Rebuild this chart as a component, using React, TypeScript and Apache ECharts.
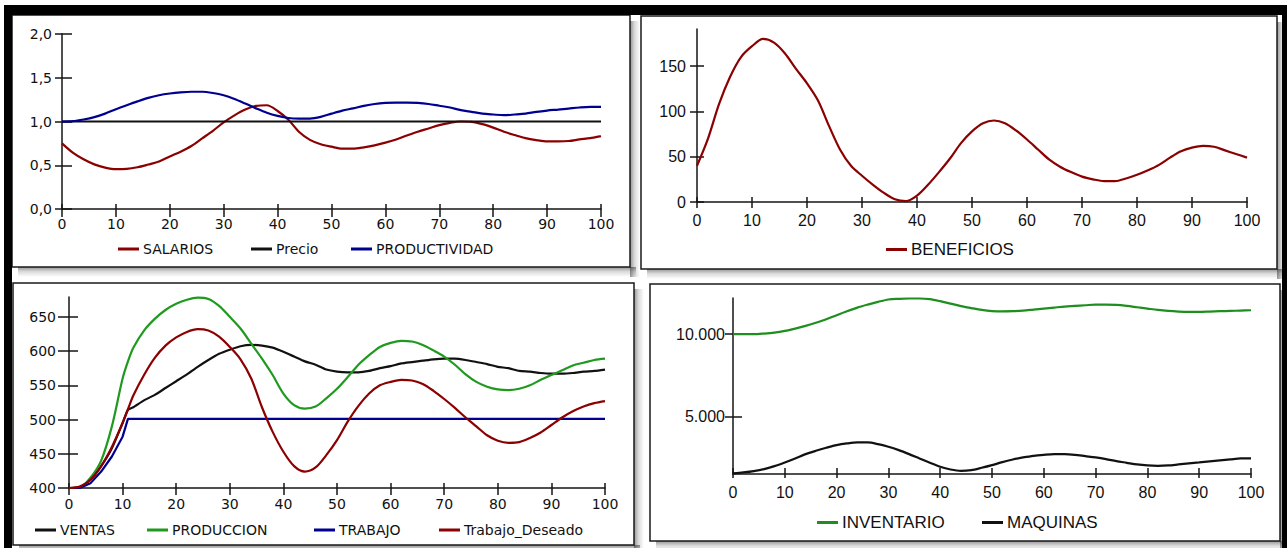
import React, { useEffect, useRef } from "react";
import * as echarts from "echarts";

// ---------- DATA ----------
const TIME = [0,2,4,6,8,10,12,14,16,18,20,22,24,26,28,30,32,34,36,38,40,42,44,46,48,50,52,54,56,58,60,62,64,66,68,70,72,74,76,78,80,82,84,86,88,90,92,94,96,98,100];
const TIME_P3 = [0,2,4,6,8,10,11,12,14,16,18,20,22,24,26,28,30,32,34,36,38,40,42,44,46,48,50,52,54,56,58,60,62,64,66,68,70,72,74,76,78,80,82,84,86,88,90,92,94,96,98,100];

// Panel 1
const SALARIOS = [0.75,0.644,0.568,0.51,0.473,0.455,0.458,0.477,0.508,0.542,0.6,0.655,0.72,0.807,0.894,0.99,1.07,1.136,1.178,1.186,1.12,1.02,0.88,0.79,0.74,0.712,0.69,0.69,0.705,0.727,0.758,0.795,0.84,0.883,0.92,0.958,0.985,1.0,0.996,0.97,0.93,0.883,0.845,0.81,0.788,0.773,0.773,0.777,0.795,0.81,0.833];
const PRECIO = [1,1,1,1,1,1,1,1,1,1,1,1,1,1,1,1,1,1,1,1,1,1,1,1,1,1,1,1,1,1,1,1,1,1,1,1,1,1,1,1,1,1,1,1,1,1,1,1,1,1,1];
const PRODUCTIVIDAD = [1.0,1.004,1.023,1.05,1.09,1.14,1.186,1.23,1.27,1.3,1.32,1.333,1.34,1.34,1.326,1.3,1.258,1.205,1.15,1.1,1.064,1.04,1.034,1.034,1.053,1.09,1.125,1.15,1.178,1.2,1.212,1.216,1.216,1.212,1.2,1.18,1.16,1.13,1.11,1.09,1.08,1.072,1.08,1.09,1.11,1.125,1.136,1.148,1.16,1.167,1.167];
const P1_Y_TICKS = [0, 0.5, 1, 1.5, 2];

// Panel 2
const BENEFICIOS = [40,70,108,138,160,172,180,176,164,147,131,112,84,58,40,29,19,10,3,1,7,19,33,48,65,78,87,90,87,79,69,58,47,39,33,28,25,23,23,26,30,35,41,49,56,60,62,61,57,53,49];
const P2_Y_TICKS = [0, 50, 100, 150];

// Panel 3
const VENTAS = [400,401,412,432,458,495,514,518,528,536,546,556,566,577,587,596,602,607,609,608,605,599,592,585,580,573,570,569,569,571,575,578,582,584,586,588,589,589,587,584,581,577,575,571,570,568,567,567,568,570,571,573];
const PRODUCCION = [400,401,415,440,490,560,585,605,630,647,660,669,675,678,676,666,650,633,611,589,565,538,521,516,519,531,545,562,580,594,606,612,615,614,609,601,592,580,566,555,548,544,543,545,550,558,565,572,579,583,587,589];
const TRABAJO = [400,400,407,424,446,475,501,501,501,501,501,501,501,501,501,501,501,501,501,501,501,501,501,501,501,501,501,501,501,501,501,501,501,501,501,501,501,501,501,501,501,501,501,501,501,501,501,501,501,501,501,501];
const TRABAJO_DESEADO = [400,402,412,432,460,495,515,535,565,590,608,620,628,632,630,621,606,588,560,518,482,453,432,424,430,448,470,497,520,538,550,555,558,557,552,542,530,517,503,490,477,469,466,467,473,481,492,503,512,519,524,527];
const P3_Y_TICKS = [400, 450, 500, 550, 600, 650];

// Panel 4
const INVENTARIO = [10000,10000,10000,10040,10100,10200,10340,10500,10690,10900,11150,11390,11610,11790,11955,12100,12140,12160,12160,12120,12000,11850,11700,11580,11470,11400,11380,11390,11430,11490,11550,11610,11670,11710,11750,11790,11790,11770,11710,11630,11550,11470,11410,11370,11350,11350,11370,11390,11410,11430,11450];
const MAQUINAS = [1573,1633,1714,1835,2017,2238,2480,2742,2944,3125,3287,3388,3448,3448,3347,3186,2984,2742,2480,2218,1976,1815,1734,1775,1916,2077,2258,2420,2541,2642,2702,2742,2742,2702,2621,2541,2440,2319,2218,2117,2057,2037,2057,2117,2178,2238,2299,2360,2420,2480,2480];
const P4_Y_TICKS = [5000, 10000];

const X_TICKS = [0, 10, 20, 30, 40, 50, 60, 70, 80, 90, 100];

// ---------- STYLE HELPERS ----------
const VERDANA = "DejaVu Sans";
const ARIAL = "Liberation Sans";
const AXIS_COLOR = "#151515";

function pairs(t: number[], v: number[]) {
  return t.map((x, i) => [x, v[i]]);
}

function makeX(gi: number, font: string, size: number, out: number, inn: number, margin: number) {
  const base = {
    type: "value",
    gridIndex: gi,
    min: 0,
    max: 100,
    position: "bottom",
    splitLine: { show: false },
  };
  return [
    {
      ...base,
      axisLine: { show: true, onZero: false, lineStyle: { color: AXIS_COLOR, width: 1.5 } },
      axisTick: { show: true, length: out, customValues: X_TICKS, lineStyle: { color: AXIS_COLOR, width: 1.5 } },
      axisLabel: { show: true, margin, customValues: X_TICKS, fontFamily: font, fontSize: size, color: "#111" },
    },
    {
      ...base,
      axisLine: { show: false, onZero: false },
      axisTick: { show: true, inside: true, length: inn, customValues: X_TICKS, lineStyle: { color: AXIS_COLOR, width: 1.5 } },
      axisLabel: { show: false, customValues: X_TICKS },
    },
  ];
}

function makeY(
  gi: number, min: number, max: number, ticks: number[], font: string, size: number,
  out: number, inn: number, margin: number, fmt: (v: number) => string
) {
  const base = {
    type: "value",
    gridIndex: gi,
    min,
    max,
    position: "left",
    splitLine: { show: false },
  };
  return [
    {
      ...base,
      axisLine: { show: true, onZero: false, lineStyle: { color: AXIS_COLOR, width: 1.5 } },
      axisTick: { show: true, length: out, customValues: ticks, lineStyle: { color: AXIS_COLOR, width: 1.5 } },
      axisLabel: { show: true, margin, customValues: ticks, formatter: fmt, fontFamily: font, fontSize: size, color: "#111" },
    },
    {
      ...base,
      axisLine: { show: false, onZero: false },
      axisTick: { show: true, inside: true, length: inn, customValues: ticks, lineStyle: { color: AXIS_COLOR, width: 1.5 } },
      axisLabel: { show: false, customValues: ticks },
    },
  ];
}

function legendItem(name: string, left: number, cy: number, font: string, size: number) {
  return {
    data: [name],
    left,
    top: cy - 8,
    padding: 0,
    itemGap: 0,
    itemWidth: 21,
    itemHeight: 3,
    icon: "rect",
    selectedMode: false,
    textStyle: { fontFamily: font, fontSize: size, color: "#111", lineHeight: 16, padding: [0, 0, 0, -1] },
  };
}

function line(name: string, color: string, gi: number, t: number[], v: number[], smooth: number | boolean) {
  return {
    name,
    type: "line",
    xAxisIndex: gi * 2,
    yAxisIndex: gi * 2,
    data: pairs(t, v),
    color,
    showSymbol: false,
    symbol: "none",
    smooth,
    lineStyle: { color, width: 2.2 },
    z: 3,
  };
}

const comma1 = (v: number) => v.toFixed(1).replace(".", ",");
const plain = (v: number) => String(v);
const thousands = (v: number) => String(v).replace(/\B(?=(\d{3})+(?!\d))/g, ".");

const RED = "#8b0000";
const BLUE = "#000090";
const GREEN = "#1f9a1f";
const GREEN2 = "#1e8e1e";
const BLACK = "#111111";

function grad(horizontal: boolean) {
  return {
    type: "linear",
    x: 0,
    y: 0,
    x2: horizontal ? 1 : 0,
    y2: horizontal ? 0 : 1,
    colorStops: [
      { offset: 0, color: "rgba(0,0,0,0.42)" },
      { offset: 0.45, color: "rgba(0,0,0,0.15)" },
      { offset: 1, color: "rgba(0,0,0,0)" },
    ],
  };
}

function panel(x: number, y: number, w: number, h: number) {
  return [
    {
      type: "rect",
      z: -15,
      silent: true,
      shape: { x: x + w, y: y + 6, width: 10, height: h + 4 },
      style: { fill: grad(true) },
    },
    {
      type: "rect",
      z: -15,
      silent: true,
      shape: { x: x + 6, y: y + h, width: w, height: 10 },
      style: { fill: grad(false) },
    },
    {
      type: "rect",
      z: -10,
      silent: true,
      shape: { x, y, width: w, height: h },
      style: { fill: "#ffffff", stroke: "#1a1a1a", lineWidth: 1.5 },
    },
  ];
}

export default function App() {
  const ref = useRef<HTMLDivElement>(null);
  useEffect(() => {
    if (!ref.current) return;
    const chart = echarts.init(ref.current, null, { renderer: "svg", width: 1287, height: 548 });
    const option: any = {
      animation: false,
      backgroundColor: "#ffffff",
      grid: [
        { left: 62, top: 34, width: 539, height: 175 },
        { left: 697, top: 29, width: 550, height: 173 },
        { left: 69, top: 297, width: 536, height: 191 },
        { left: 733, top: 298, width: 518, height: 176 },
      ],
      xAxis: [
        ...makeX(0, VERDANA, 14, 8, 5, 8),
        ...makeX(1, ARIAL, 16, 6, 5, 10),
        ...makeX(2, VERDANA, 14, 7, 5, 9),
        ...makeX(3, ARIAL, 16, 4, 6, 10),
      ],
      yAxis: [
        ...makeY(0, 0, 2, P1_Y_TICKS, VERDANA, 14, 7, 10, 10, comma1),
        ...makeY(1, 0, 191, P2_Y_TICKS, ARIAL, 16, 7, 7, 11, plain),
        ...makeY(2, 400, 679, P3_Y_TICKS, VERDANA, 14, 11, 9, 13, plain),
        ...makeY(3, 1540, 12190, P4_Y_TICKS, ARIAL, 16, 8, 9, 8, thousands),
      ],
      legend: [
        legendItem("SALARIOS", 118, 249, VERDANA, 14),
        legendItem("Precio", 251, 249, VERDANA, 14),
        legendItem("PRODUCTIVIDAD", 351, 249, VERDANA, 14),
        legendItem("BENEFICIOS", 886, 249, ARIAL, 17),
        legendItem("VENTAS", 35, 530, VERDANA, 14),
        legendItem("PRODUCCION", 147, 530, VERDANA, 14),
        legendItem("TRABAJO", 314, 530, VERDANA, 14),
        legendItem("Trabajo_Deseado", 439, 530, VERDANA, 14),
        legendItem("INVENTARIO", 817, 522, ARIAL, 17),
        legendItem("MAQUINAS", 982, 522, ARIAL, 17),
      ],
      graphic: {
        elements: [
          ...panel(12, 15, 618, 252),
          ...panel(641, 16, 636, 253),
          ...panel(13, 283, 621, 262),
          ...panel(650, 284, 630, 257),
          { type: "rect", z: -5, silent: true, shape: { x: 4, y: 5, width: 1283, height: 10 }, style: { fill: "#000" } },
          { type: "rect", z: -5, silent: true, shape: { x: 4, y: 5, width: 8, height: 543 }, style: { fill: "#000" } },
          { type: "rect", z: -5, silent: true, shape: { x: 1282, y: 5, width: 5, height: 543 }, style: { fill: "#000" } },
        ],
      },
      series: [
        line("SALARIOS", RED, 0, TIME, SALARIOS, 0.3),
        line("Precio", BLACK, 0, TIME, PRECIO, false),
        line("PRODUCTIVIDAD", BLUE, 0, TIME, PRODUCTIVIDAD, 0.3),
        line("BENEFICIOS", RED, 1, TIME, BENEFICIOS, 0.3),
        line("VENTAS", BLACK, 2, TIME_P3, VENTAS, 0.2),
        line("PRODUCCION", GREEN, 2, TIME_P3, PRODUCCION, 0.3),
        line("TRABAJO", BLUE, 2, TIME_P3, TRABAJO, false),
        line("Trabajo_Deseado", RED, 2, TIME_P3, TRABAJO_DESEADO, 0.3),
        line("INVENTARIO", GREEN2, 3, TIME, INVENTARIO, 0.3),
        line("MAQUINAS", BLACK, 3, TIME, MAQUINAS, 0.3),
      ],
    };
    chart.setOption(option);
    return () => chart.dispose();
  }, []);
  return (
    <div
      ref={ref}
      style={{ position: "absolute", left: 0, top: 0, width: 1287, height: 548 }}
    />
  );
}
